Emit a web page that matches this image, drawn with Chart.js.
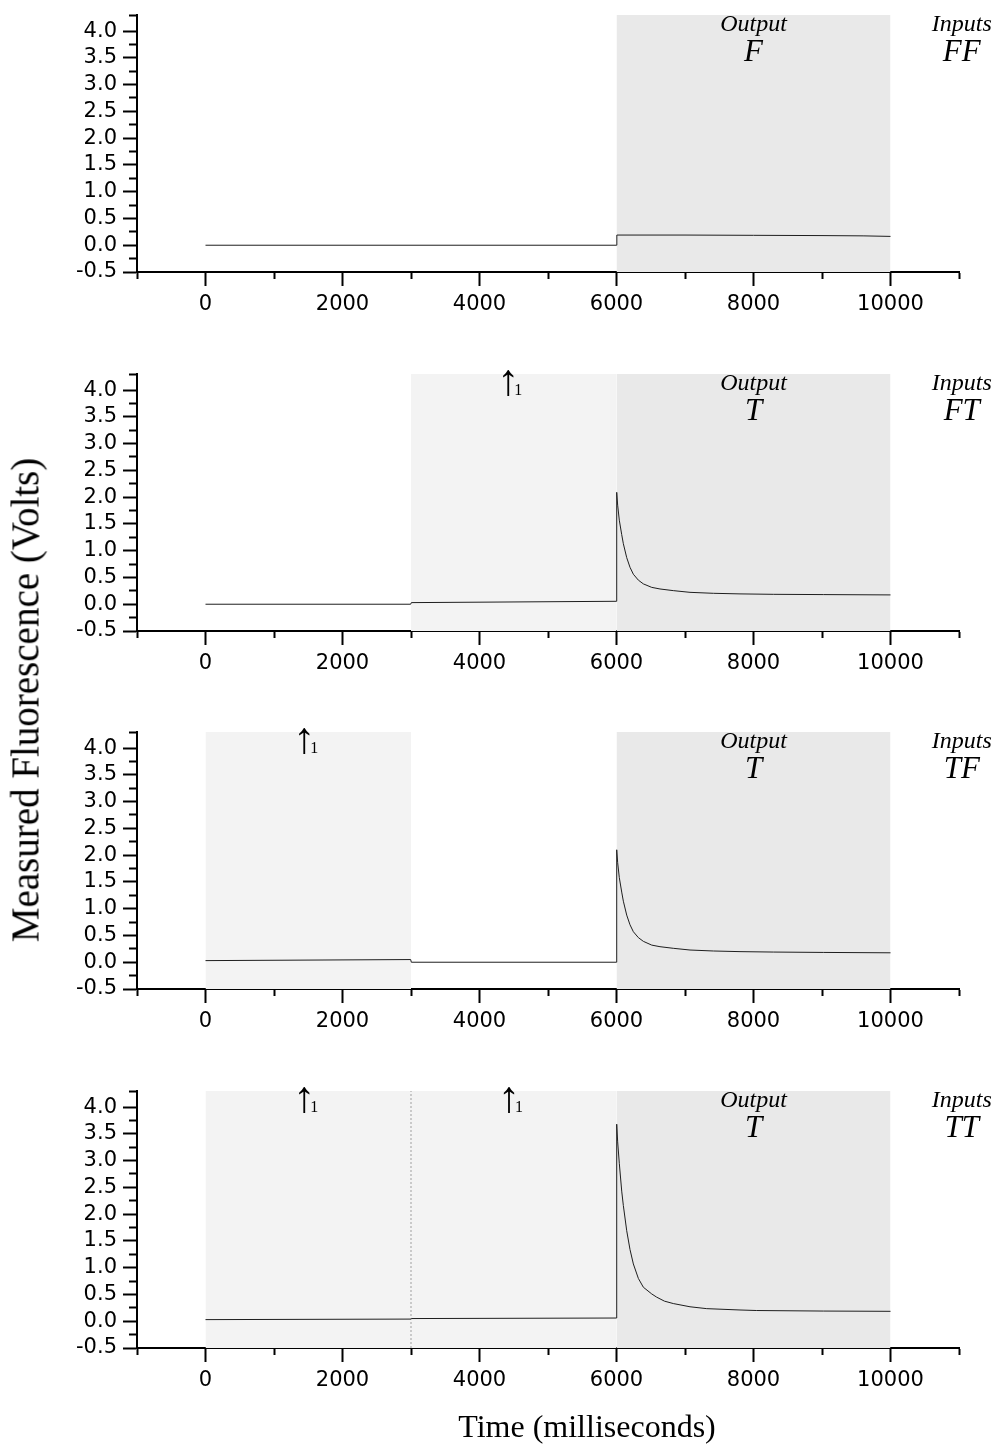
<!DOCTYPE html>
<html><head><meta charset="utf-8">
<script src="https://cdn.jsdelivr.net/npm/chart.js@4.4.1/dist/chart.umd.min.js"></script>
<style>
html,body{margin:0;padding:0;background:#fff;}
body{width:998px;height:1445px;position:relative;overflow:hidden;}
canvas{position:absolute;left:0;}
.ttl{position:absolute;font-family:'Liberation Serif','Times New Roman',serif;color:#000;white-space:nowrap;line-height:1;}
</style></head><body>
<canvas id="c0" width="998" height="358" style="top:0px"></canvas>
<canvas id="c1" width="998" height="358" style="top:359px"></canvas>
<canvas id="c2" width="998" height="358" style="top:717px"></canvas>
<canvas id="c3" width="998" height="358" style="top:1076px"></canvas>
<div class="ttl" style="left:25px;top:700px;font-size:39px;transform:translate(-50%,-50%) rotate(-90deg);">Measured Fluorescence (Volts)</div>
<div class="ttl" style="left:587px;top:1410px;font-size:32px;transform:translateX(-50%);">Time (milliseconds)</div>
<script>
// ---------- data ----------
const xTickValues = [0, 2000, 4000, 6000, 8000, 10000];
const xTickLabels = ['0', '2000', '4000', '6000', '8000', '10000'];
const yTickValues = [-0.5, 0, 0.5, 1, 1.5, 2, 2.5, 3, 3.5, 4];
const yTickLabels = ['-0.5', '0.0', '0.5', '1.0', '1.5', '2.0', '2.5', '3.0', '3.5', '4.0'];

// Inputs FF
const timeFF  = [0, 5995, 6005, 7000, 8000, 9000, 9600, 10000];
const voltsFF = [0.0, 0.0, 0.19, 0.19, 0.185, 0.18, 0.175, 0.165];
// Inputs FT
const timeFT  = [0, 2995, 3005, 5995, 6003, 6017, 6041, 6076, 6100, 6149, 6197, 6246, 6319, 6392, 6514, 6635, 6829, 7073, 7414, 7803, 8289, 9019, 10000];
const voltsFT = [0.0, 0.0, 0.03, 0.055, 2.09, 1.85, 1.57, 1.30, 1.13, 0.87, 0.69, 0.56, 0.45, 0.38, 0.315, 0.285, 0.254, 0.222, 0.204, 0.193, 0.185, 0.18, 0.174];
// Inputs TF
const timeTF  = [0, 2995, 3005, 5995, 6003, 6017, 6041, 6076, 6100, 6149, 6197, 6246, 6319, 6392, 6514, 6635, 6829, 7073, 7414, 7803, 8289, 9019, 10000];
const voltsTF = [0.03, 0.05, 0.0, 0.0, 2.10, 1.86, 1.58, 1.31, 1.14, 0.88, 0.70, 0.57, 0.46, 0.39, 0.32, 0.29, 0.26, 0.228, 0.21, 0.198, 0.19, 0.183, 0.176];
// Inputs TT
const timeTT  = [0, 2995, 3005, 5995, 6003, 6017, 6041, 6076, 6100, 6149, 6197, 6246, 6319, 6392, 6514, 6586, 6700, 6829, 7073, 7317, 7803, 8047, 9019, 10000];
const voltsTT = [0.03, 0.04, 0.05, 0.06, 3.68, 3.35, 2.95, 2.43, 2.16, 1.69, 1.34, 1.07, 0.80, 0.635, 0.51, 0.45, 0.375, 0.33, 0.27, 0.235, 0.21, 0.20, 0.19, 0.185];

// shaded windows [start, end]
const outputWindow = [6000, 10000];
const inputWindowsFF = [];
const inputWindowsFT = [[3000, 6000]];
const inputWindowsTF = [[0, 3000]];
const inputWindowsTT = [[0, 3000], [3000, 6000]];
// pulse arrow times
const arrowsFF = [];
const arrowsFT = [4420];
const arrowsTF = [1440];
const arrowsTT = [1440, 4430];
const dividersTT = [3000];

const outputLetters = ['F', 'T', 'T', 'T'];
const inputLetters = ['FF', 'FT', 'TF', 'TT'];

// ---------- styling ----------
const Y_MIN = -0.5, Y_MAX = 4.3, X_MIN = -1000, X_MAX = 11000;
const OUT_COLOR = '#e9e9e9', IN_COLOR = '#f3f3f3';
const OUTPUT_LABEL_T = 8000, INPUT_LABEL_T = 11040;

const panels = [
  {time: timeFF, volts: voltsFF, inputs: inputWindowsFF, arrows: arrowsFF, dividers: []},
  {time: timeFT, volts: voltsFT, inputs: inputWindowsFT, arrows: arrowsFT, dividers: []},
  {time: timeTF, volts: voltsTF, inputs: inputWindowsTF, arrows: arrowsTF, dividers: []},
  {time: timeTT, volts: voltsTT, inputs: inputWindowsTT, arrows: arrowsTT, dividers: dividersTT},
];

function near(a, b) { return Math.abs(a - b) < 1e-6; }

const annotPlugin = {
  id: 'annot',
  afterDatasetsDraw(chart, args, opts) {
    const ctx = chart.ctx, xs = chart.scales.x, top = chart.chartArea.top;
    ctx.save();
    ctx.fillStyle = '#000';
    ctx.textAlign = 'center';
    ctx.textBaseline = 'alphabetic';
    ctx.font = 'italic 24px "Liberation Serif"';
    ctx.fillText('Output', xs.getPixelForValue(OUTPUT_LABEL_T), top + 16);
    ctx.fillText('Inputs', xs.getPixelForValue(INPUT_LABEL_T), top + 16);
    ctx.font = 'italic 31px "Liberation Serif"';
    ctx.fillText(opts.out, xs.getPixelForValue(OUTPUT_LABEL_T), top + 46);
    ctx.fillText(opts.inp, xs.getPixelForValue(INPUT_LABEL_T), top + 46);
    opts.arrows.forEach(t => {
      const px = xs.getPixelForValue(t);
      ctx.textAlign = 'center';
      ctx.font = '44px "Liberation Serif"';
      ctx.fillText('\u2191', px, top + 21);
      ctx.textAlign = 'left';
      ctx.font = '16px "Liberation Serif"';
      ctx.fillText('1', px + 6, top + 21);
    });
    ctx.restore();
  }
};

panels.forEach((p, i) => {
  const datasets = [];
  datasets.push({
    data: p.time.map((t, k) => ({x: t, y: p.volts[k]})),
    borderColor: '#1e1e1e', borderWidth: 1, pointRadius: 0, tension: 0, fill: false, order: 0
  });
  p.dividers.forEach(t => datasets.push({
    data: [{x: t, y: Y_MIN}, {x: t, y: Y_MAX}],
    borderColor: '#a0a0a0', borderWidth: 1, borderDash: [2, 2], pointRadius: 0, fill: false, order: 1
  }));
  datasets.push({
    data: [{x: outputWindow[0], y: Y_MAX}, {x: outputWindow[1], y: Y_MAX}],
    borderColor: 'rgba(0,0,0,0)', borderWidth: 0, backgroundColor: OUT_COLOR, pointRadius: 0, fill: 'start', order: 3
  });
  p.inputs.forEach(w => datasets.push({
    data: [{x: w[0], y: Y_MAX}, {x: w[1], y: Y_MAX}],
    borderColor: 'rgba(0,0,0,0)', borderWidth: 0, backgroundColor: IN_COLOR, pointRadius: 0, fill: 'start', order: 3
  }));

  new Chart(document.getElementById('c' + i), {
    type: 'line',
    data: {datasets},
    plugins: [annotPlugin],
    options: {
      responsive: false, animation: false,
      layout: {padding: {left: 0, right: 39, top: 15, bottom: 0}},
      plugins: {
        legend: {display: false}, tooltip: {enabled: false},
        annot: {out: outputLetters[i], inp: inputLetters[i], arrows: p.arrows}
      },
      scales: {
        x: {
          type: 'linear', min: X_MIN, max: X_MAX,
          afterFit: s => { s.height = 86; s.paddingLeft = 0; s.paddingRight = 0; },
          border: {display: true, color: '#000', width: 2},
          grid: {
            display: true, drawOnChartArea: false, drawTicks: true, tickLength: 14, tickWidth: 2, tickColor: '#000',
            tickBorderDash: c => (c.tick && xTickValues.some(v => near(v, c.tick.value))) ? [] : [6, 40]
          },
          ticks: {
            stepSize: 1000, autoSkip: false, maxRotation: 0, minRotation: 0, padding: 6, color: '#000',
            font: {family: 'DejaVu Sans', size: 21},
            callback: v => { const k = xTickValues.findIndex(t => near(t, v)); return k >= 0 ? xTickLabels[k] : ''; }
          }
        },
        y: {
          type: 'linear', min: Y_MIN, max: Y_MAX,
          afterFit: s => { s.width = 137; s.paddingTop = 0; s.paddingBottom = 0; },
          border: {display: true, color: '#000', width: 2},
          grid: {
            display: true, drawOnChartArea: false, drawTicks: true, tickLength: 14, tickWidth: 2, tickColor: '#000',
            tickBorderDash: c => (c.tick && yTickValues.some(v => near(v, c.tick.value))) ? [] : [0, 6, 20, 0]
          },
          ticks: {
            stepSize: 0.25, autoSkip: false, padding: 6, color: '#000',
            font: {family: 'DejaVu Sans', size: 21},
            callback: v => { const k = yTickValues.findIndex(t => near(t, v)); return k >= 0 ? yTickLabels[k] : ''; }
          }
        }
      }
    }
  });
});
</script>
</body></html>
